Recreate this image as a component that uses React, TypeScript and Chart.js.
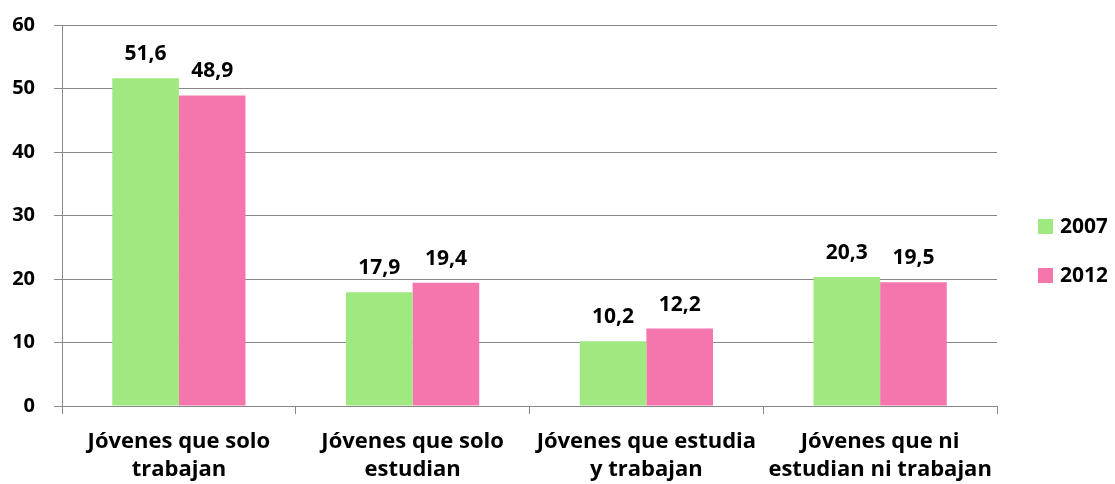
import React, { useEffect, useRef } from "react";
import { Chart, registerables } from "chart.js";

Chart.register(...registerables);

const categories: string[][] = [
  ["Jóvenes que solo", "trabajan"],
  ["Jóvenes que solo", "estudian"],
  ["Jóvenes que estudia", "y trabajan"],
  ["Jóvenes que ni", "estudian ni trabajan"],
];
const series2007: number[] = [51.6, 17.9, 10.2, 20.3];
const series2012: number[] = [48.9, 19.4, 12.2, 19.5];
const seriesNames: string[] = ["2007", "2012"];
const yTicks: number[] = [0, 10, 20, 30, 40, 50, 60];

const GREEN = "#a0e880";
const PINK = "#f476ad";
const FONT = "'Open Sans', sans-serif";

const labelPlugin = {
  id: "valueLabels",
  afterDatasetsDraw(chart: any) {
    const ctx = chart.ctx;
    ctx.save();
    ctx.font = `700 21px ${FONT}`;
    ctx.fillStyle = "#000";
    ctx.textAlign = "center";
    ctx.textBaseline = "alphabetic";
    chart.data.datasets.forEach((ds: any, i: number) => {
      const meta = chart.getDatasetMeta(i);
      meta.data.forEach((bar: any, j: number) => {
        const v = ds.data[j] as number;
        ctx.fillText(v.toFixed(1).replace(".", ","), bar.x, bar.y - 18);
      });
    });
    // legend
    const colors = [GREEN, PINK];
    const baseY = [225, 274];
    seriesNames.forEach((name, i) => {
      ctx.fillStyle = colors[i];
      ctx.fillRect(1030, baseY[i] - 14, 15, 15);
      ctx.fillStyle = "#000";
      ctx.textAlign = "left";
      ctx.fillText(name, 1052, baseY[i]);
    });
    ctx.restore();
  },
};

export default function App() {
  const ref = useRef<HTMLCanvasElement | null>(null);
  useEffect(() => {
    if (!ref.current) return;
    const chart = new Chart(ref.current, {
      type: "bar",
      data: {
        labels: categories,
        datasets: [
          { label: seriesNames[0], data: series2007, backgroundColor: GREEN },
          { label: seriesNames[1], data: series2012, backgroundColor: PINK },
        ],
      },
      options: {
        animation: false,
        responsive: false,
        maintainAspectRatio: false,
        layout: { padding: { top: 17, right: 110, left: 0, bottom: 0 } },
        plugins: {
          legend: { display: false },
          tooltip: { enabled: false },
        },
        datasets: {
          bar: { barPercentage: 1, categoryPercentage: 0.57 },
        },
        scales: {
          x: {
            offset: true,
            grid: {
              offset: true,
              drawOnChartArea: false,
              drawTicks: true,
              tickLength: 8,
              color: "#888",
            },
            border: { color: "#888", width: 1 },
            ticks: {
              color: "#000",
              font: { family: FONT, size: 22, weight: "700", lineHeight: 1.3 },
              padding: 13,
              maxRotation: 0,
              autoSkip: false,
            },
            afterFit: (scale: any) => {
              scale.height = 78;
              scale.paddingLeft = 0;
              scale.paddingRight = 0;
            },
          },
          y: {
            min: 0,
            max: 60,
            afterBuildTicks: (scale: any) => {
              scale.ticks = yTicks.map((v) => ({ value: v }));
            },
            grid: { color: "#888", tickLength: 8, lineWidth: 1 },
            border: { color: "#888", width: 1 },
            ticks: {
              color: "#000",
              font: { family: FONT, size: 20, weight: "700" },
              padding: 19,
            },
            afterFit: (scale: any) => {
              scale.width = 54;
              scale.paddingTop = 0;
              scale.paddingBottom = 0;
            },
          },
        },
      },
      plugins: [labelPlugin],
    });
    return () => chart.destroy();
  }, []);
  return (
    <div style={{ width: 1099, height: 476 }}>
      <canvas ref={ref} width={1099} height={476} style={{ display: "block" }} />
    </div>
  );
}
